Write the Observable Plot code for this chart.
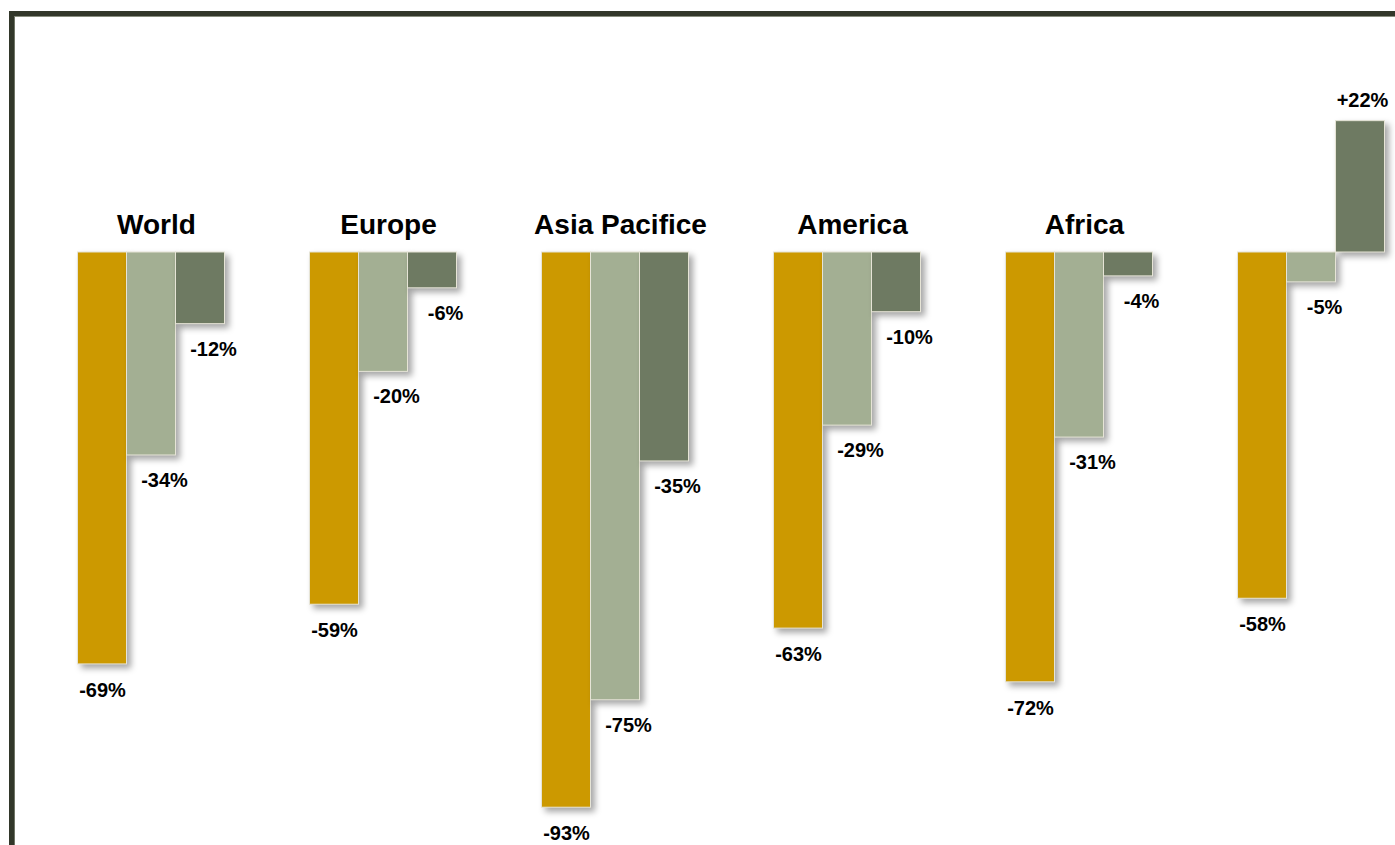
<!DOCTYPE html>
<html>
<head>
<meta charset="utf-8">
<script src="https://cdn.jsdelivr.net/npm/d3@7"></script>
<script src="https://cdn.jsdelivr.net/npm/@observablehq/plot@0.6"></script>
<style>
  html, body { margin: 0; padding: 0; background: #fff; width: 1395px; height: 845px; overflow: hidden; }
  #frame { position: absolute; left: 9px; top: 11px; width: 1500px; height: 900px;
           border-left: 5px solid #32372a; border-top: 5px solid #32372a; box-sizing: border-box; }
  #frame-inner { position: absolute; left: 14px; top: 16px; width: 1500px; height: 900px;
           border-left: 1px solid #6f7566; border-top: 1px solid #8a8f80; box-sizing: border-box; }
  #chart { position: absolute; left: 0; top: 0; }
</style>
</head>
<body>
<div id="chart"></div>
<div id="frame"></div>
<div id="frame-inner"></div>
<script>
const groups = ["World", "Europe", "Asia Pacifice", "America", "Africa", "Middle East"];
const groupTitles = ["World", "Europe", "Asia Pacifice", "America", "Africa", ""];
const seriesNames = ["Series 1", "Series 2", "Series 3"];
const series1 = [-69, -59, -93, -63, -72, -58];
const series2 = [-34, -20, -75, -29, -31, -5];
const series3 = [-12, -6, -35, -10, -4, 22];
const seriesColors = ["#cc9900", "#a3af93", "#6e7a62"];

const seriesValues = [series1, series2, series3];
const data = [];
groups.forEach((g, i) => {
  seriesValues.forEach((vals, j) => {
    const v = vals[i];
    data.push({group: g, series: seriesNames[j], value: v, label: (v > 0 ? "+" : "") + v + "%"});
  });
});
const titleData = groups.map((g, i) => ({group: g, title: groupTitles[i]}));

const font = "'Liberation Sans', Arial, sans-serif";

const chart = Plot.plot({
  width: 1395,
  height: 845,
  marginLeft: 76.5,
  marginRight: 9.5,
  marginTop: 0,
  marginBottom: 0,
  style: {fontFamily: font, fontWeight: "bold", background: "transparent", overflow: "visible"},
  fx: {domain: groups, paddingInner: 0.36, paddingOuter: 0, axis: null, label: null},
  x: {domain: seriesNames, padding: 0, axis: null},
  y: {domain: [-99.33, 42.21], axis: null},
  color: {domain: seriesNames, range: seriesColors},
  marks: [
    Plot.barY(data, {fx: "group", x: "series", y: "value", fill: "series",
      stroke: "#e6e4d6", strokeWidth: 1, inset: 0}),
    Plot.text(data.filter(d => d.value < 0 && d.series === seriesNames[0]), {
      fx: "group", x: "series", y: "value", text: "label",
      dy: 26, fontSize: 20, fill: "#000", lineAnchor: "middle"}),
    Plot.text(data.filter(d => d.value < 0 && d.series !== seriesNames[0]), {
      fx: "group", x: "series", y: "value", text: "label",
      dx: 13, dy: 25, fontSize: 20, fill: "#000", lineAnchor: "middle"}),
    Plot.text(data.filter(d => d.value > 0), {
      fx: "group", x: "series", y: "value", text: "label",
      dx: 2, dy: -21, fontSize: 20, fill: "#000", lineAnchor: "middle"}),
    Plot.text(titleData, {
      fx: "group", x: () => seriesNames[1], y: () => 0, text: "title",
      dx: 5, dy: -27, fontSize: 28, fill: "#000", lineAnchor: "middle"})
  ]
});

document.getElementById("chart").appendChild(chart);
d3.select(chart).selectAll('g[aria-label="bar"] rect')
  .style("filter", "drop-shadow(4px 4px 3px rgba(0,0,0,0.35))");
</script>
</body>
</html>
